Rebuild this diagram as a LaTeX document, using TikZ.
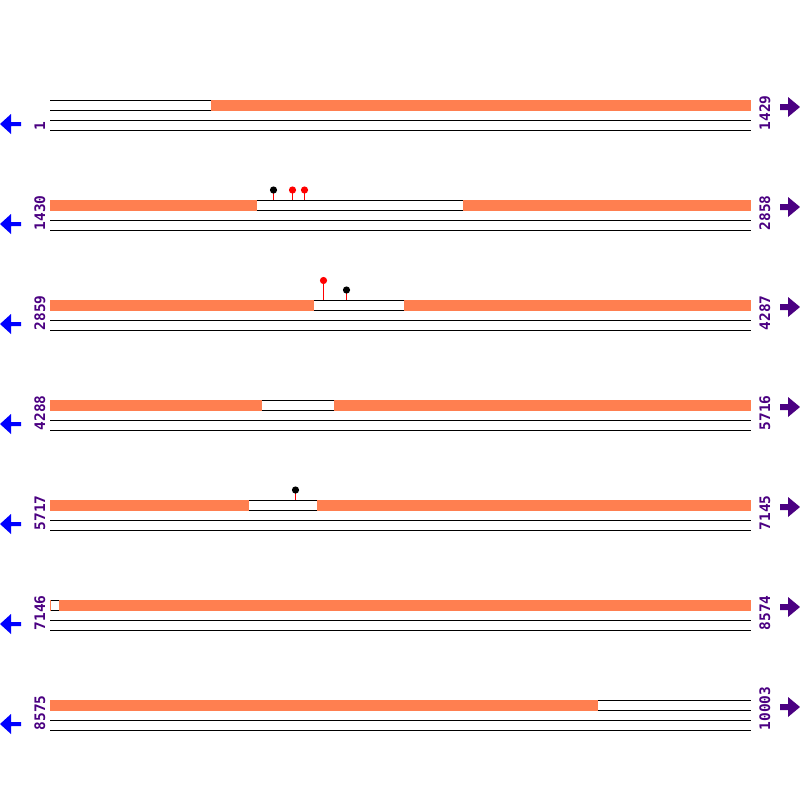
\documentclass[tikz,border=0pt]{standalone}
\usepackage{fontspec}
\setmonofont{DejaVu Sans Mono}
\definecolor{coral}{RGB}{255,127,80}
\definecolor{lab}{RGB}{75,0,130}
\definecolor{larrow}{RGB}{0,0,255}
\tikzset{
  seqline/.style={black, line width=1pt},
  band/.style={fill=coral, draw=none},
  numlab/.style={font=\ttfamily\bfseries\fontsize{14.5}{14.5}\selectfont, text=lab, inner sep=0pt, rotate=90, anchor=base west},
  stick/.style={red, line width=1pt},
  lefttip/.style={fill=larrow, draw=none},
  righttip/.style={fill=lab, draw=none}
}
\newcommand{\seqrow}[3]{% top, left label, right label
  \foreach \yy in {0,10,20,30} {\draw[seqline] (50,#1+\yy+0.5) -- (751,#1+\yy+0.5);}
  \node[numlab] (L#2) at (45,#1+30.5) {#2};
  \node[numlab] (R#3) at (770,#1+30.5) {#3};
  \fill[lefttip] (0,#1+24) -- (11,#1+14) -- (11,#1+22) -- (21,#1+22) -- (21,#1+26) -- (11,#1+26) -- (11,#1+34) -- cycle;
  \fill[righttip] (800,#1+7) -- (788,#1-3) -- (788,#1+4) -- (780,#1+4) -- (780,#1+10) -- (788,#1+10) -- (788,#1+17) -- cycle;
}
\newcommand{\orange}[3]{\fill[band] (#2,#1) rectangle (#3,#1+11);}
\newcommand{\lolli}[4]{% x, head y, top, colour
  \draw[stick] (#1,#2) -- (#1,#3);
  \fill[#4] (#1,#2) circle (3.6);
}
\begin{document}
\begin{tikzpicture}[x=1pt,y=-1pt]
\useasboundingbox (0,0) rectangle (800,800);
\fill[white] (0,0) rectangle (800,800);
% row 1
\seqrow{100}{1}{1429}
\orange{100}{211}{751}
% row 2
\seqrow{200}{1430}{2858}
\orange{200}{50}{257}
\orange{200}{463}{751}
\lolli{273.5}{190}{200}{black}
\lolli{292.5}{190}{200}{red}
\lolli{304.5}{190}{200}{red}
% row 3
\seqrow{300}{2859}{4287}
\orange{300}{50}{314}
\orange{300}{404}{751}
\lolli{323.5}{280.5}{300}{red}
\lolli{346.5}{290}{300}{black}
% row 4
\seqrow{400}{4288}{5716}
\orange{400}{50}{262}
\orange{400}{334}{751}
% row 5
\seqrow{500}{5717}{7145}
\orange{500}{50}{249}
\orange{500}{317}{751}
\lolli{295.5}{490}{500}{black}
% row 6
\seqrow{600}{7146}{8574}
\orange{600}{50}{51}
\orange{600}{59}{751}
% row 7
\seqrow{700}{8575}{10003}
\orange{700}{50}{598}
\end{tikzpicture}
\end{document}
